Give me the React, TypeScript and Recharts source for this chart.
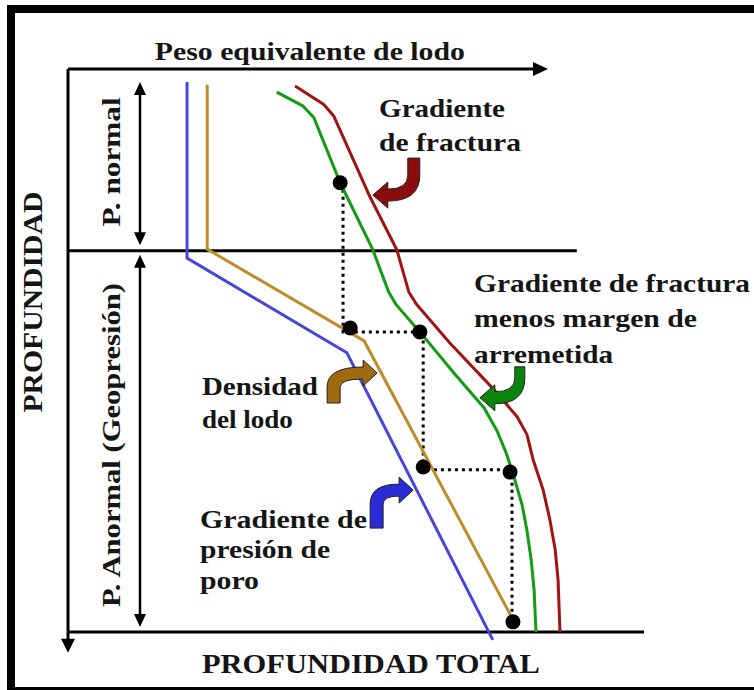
import {
  ComposedChart,
  Line,
  Scatter,
  XAxis,
  YAxis,
  ReferenceLine,
  ReferenceDot,
} from 'recharts'

// x: peso equivalente de lodo (0-100, relative), y: profundidad (0-100 = profundidad total)
const presionPoro = [
  { x: 24.8, y: 2.3 },
  { x: 24.8, y: 33.6 },
  { x: 58.1, y: 50.4 },
  { x: 88.5, y: 101.4 },
]

const densidadLodo = [
  { x: 29.0, y: 2.8 },
  { x: 29.0, y: 32.0 },
  { x: 61.7, y: 48.3 },
  { x: 92.5, y: 97.5 },
]

const fracturaMenosMargen = [
  { x: 43.5, y: 4.1 },
  { x: 49.0, y: 6.6 },
  { x: 51.2, y: 8.6 },
  { x: 56.7, y: 20.2 },
  { x: 63.5, y: 32.1 },
  { x: 66.8, y: 39.6 },
  { x: 68.4, y: 41.9 },
  { x: 73.3, y: 46.7 },
  { x: 80.4, y: 54.0 },
  { x: 86.7, y: 60.2 },
  { x: 89.4, y: 64.3 },
  { x: 91.2, y: 68.0 },
  { x: 92.6, y: 71.6 },
  { x: 94.6, y: 77.4 },
  { x: 95.6, y: 81.9 },
  { x: 96.5, y: 87.2 },
  { x: 97.1, y: 92.5 },
  { x: 97.5, y: 100 },
]

const gradienteFractura = [
  { x: 47.3, y: 3.0 },
  { x: 53.3, y: 6.3 },
  { x: 55.4, y: 8.4 },
  { x: 62.9, y: 22.7 },
  { x: 68.5, y: 32.1 },
  { x: 71.0, y: 39.6 },
  { x: 72.6, y: 41.8 },
  { x: 79.6, y: 48.7 },
  { x: 88.8, y: 57.0 },
  { x: 93.6, y: 61.8 },
  { x: 95.6, y: 64.9 },
  { x: 96.9, y: 69.4 },
  { x: 99.0, y: 74.8 },
  { x: 100.4, y: 80.1 },
  { x: 101.5, y: 85.4 },
  { x: 102.1, y: 90.8 },
  { x: 102.5, y: 100 },
]

// puntos de asentamiento de tuberias
const puntos = [
  { x: 56.7, y: 20.2 },
  { x: 58.8, y: 46.0 },
  { x: 73.3, y: 46.7 },
  { x: 74.0, y: 70.7 },
  { x: 92.1, y: 71.6 },
  { x: 92.7, y: 98.2 },
]

const escalera = [
  { x: 57.3, y: 20.2 },
  { x: 57.3, y: 46.7 },
  { x: 74.0, y: 46.7 },
  { x: 74.0, y: 71.2 },
  { x: 92.5, y: 71.2 },
  { x: 92.5, y: 98.2 },
]

const limiteNormal = 32.3
const profundidadTotal = 100

const tituloX = 'Peso equivalente de lodo'
const tituloY = 'PROFUNDIDAD'
const tituloFondo = 'PROFUNDIDAD TOTAL'
const zonaNormal = 'P. normal'
const zonaAnormal = 'P. Anormal (Geopresión)'
const notaFractura = ['Gradiente', 'de fractura']
const notaMargen = ['Gradiente de fractura', 'menos margen de', 'arremetida']
const notaLodo = ['Densidad', 'del lodo']
const notaPoro = ['Gradiente de', 'presión de', 'poro']

const FONT = 'Liberation Serif, Times New Roman, Times, serif'
const INK = '#151515'

const textBlock =
  (lines: string[], widths: number[], size: number, lead: number) =>
  (p: any) => (
    <g>
      {lines.map((t, i) => (
        <text
          key={i}
          x={p.cx}
          y={p.cy + i * lead}
          style={{ fontFamily: FONT, fontWeight: 700, fontSize: size }}
          fill={INK}
          textLength={widths[i]}
          lengthAdjust="spacingAndGlyphs"
        >
          {t}
        </text>
      ))}
    </g>
  )

const verticalText = (t: string, width: number, size: number) => (p: any) => (
  <text
    x={p.cx}
    y={p.cy}
    transform={`rotate(-90 ${p.cx} ${p.cy})`}
    textAnchor="middle"
    style={{ fontFamily: FONT, fontWeight: 700, fontSize: size }}
    fill={INK}
    textLength={width}
    lengthAdjust="spacingAndGlyphs"
  >
    {t}
  </text>
)

// block arrow bending down and pointing left (tip at cx, cy)
const hookLeft = (fill: string, si: number, so: number, top: number) => (p: any) => (
  <path
    transform={`translate(${p.cx} ${p.cy})`}
    d={`M0 0 L15 -13 L15 -6 Q${si} -6 ${si} -20 L${si} ${top} L${so} ${top} L${so} -20 Q${so} 6 15 6 L15 13 Z`}
    fill={fill}
    stroke="#222"
    strokeWidth={1}
  />
)

// block arrow rising and pointing right (tip at cx, cy)
const hookRight = (fill: string, so: number, si: number, bottom: number) => (p: any) => (
  <path
    transform={`translate(${p.cx} ${p.cy})`}
    d={`M0 0 L-14 -13 L-14 -6 Q${so} -6 ${so} 14 L${so} ${bottom} L${si} ${bottom} L${si} 14 Q${si} 6 -14 6 L-14 13 Z`}
    fill={fill}
    stroke="#222"
    strokeWidth={1}
  />
)

const arrowLine =
  (heads: 'none' | 'end' | 'both', w = 3, hw = 7, hl = 14) =>
  (p: any) => {
    const { x1, y1, x2, y2 } = p
    const a = Math.atan2(y2 - y1, x2 - x1)
    const c = Math.cos(a)
    const s = Math.sin(a)
    const head = (tx: number, ty: number, dir: number) => {
      const bx = tx - dir * c * hl
      const by = ty - dir * s * hl
      return `${tx},${ty} ${bx - s * hw},${by + c * hw} ${bx + s * hw},${by - c * hw}`
    }
    const sx = heads === 'both' ? x1 + c * (hl - 2) : x1
    const sy = heads === 'both' ? y1 + s * (hl - 2) : y1
    const ex = heads === 'none' ? x2 : x2 - c * (hl - 2)
    const ey = heads === 'none' ? y2 : y2 - s * (hl - 2)
    return (
      <g>
        <line x1={sx} y1={sy} x2={ex} y2={ey} stroke="#000" strokeWidth={w} />
        {heads !== 'none' && <polygon points={head(x2, y2, 1)} fill="#000" />}
        {heads === 'both' && <polygon points={head(x1, y1, -1)} fill="#000" />}
      </g>
    )
  }

export default function App() {
  return (
    <div
      style={{
        position: 'absolute',
        left: 0,
        top: 0,
        width: 754,
        height: 690,
        overflow: 'hidden',
        background: '#fff',
      }}
    >
      <div
        style={{
          position: 'absolute',
          left: 7,
          top: 5,
          width: 800,
          height: 690,
          border: '8px solid #000',
          boxSizing: 'border-box',
        }}
      />
      <div style={{ position: 'absolute', left: 0, top: 0 }}>
        <ComposedChart
          width={754}
          height={690}
          margin={{ top: 69, right: 86, bottom: 35.5, left: 68 }}
        >
          <XAxis type="number" dataKey="x" domain={[0, 125]} hide />
          <YAxis type="number" dataKey="y" domain={[0, 104]} reversed hide />

          <ReferenceLine
            segment={[{ x: 0, y: 0 }, { x: 100, y: 0 }]}
            ifOverflow="visible"
            shape={arrowLine('end', 3, 7, 15)}
          />
          <ReferenceLine
            segment={[{ x: 0, y: 0 }, { x: 0, y: 103.7 }]}
            ifOverflow="visible"
            shape={arrowLine('end', 3, 7, 14)}
          />
          <ReferenceLine
            segment={[{ x: 0, y: limiteNormal }, { x: 106, y: limiteNormal }]}
            ifOverflow="visible"
            shape={arrowLine('none', 3)}
          />
          <ReferenceLine
            segment={[{ x: 0, y: profundidadTotal }, { x: 120, y: profundidadTotal }]}
            ifOverflow="visible"
            shape={arrowLine('none', 3)}
          />
          <ReferenceLine
            segment={[{ x: 15, y: 2.3 }, { x: 15, y: 31.3 }]}
            ifOverflow="visible"
            shape={arrowLine('both', 2.5, 6, 13)}
          />
          <ReferenceLine
            segment={[{ x: 15, y: 33.0 }, { x: 15, y: 99.1 }]}
            ifOverflow="visible"
            shape={arrowLine('both', 2.5, 6, 13)}
          />

          <Line
            data={escalera}
            dataKey="y"
            type="linear"
            stroke="#000"
            strokeWidth={3}
            strokeDasharray="3 4"
            dot={false}
            activeDot={false}
            isAnimationActive={false}
          />
          <Line
            data={presionPoro}
            dataKey="y"
            type="linear"
            stroke="#4646d8"
            strokeWidth={3}
            dot={false}
            activeDot={false}
            isAnimationActive={false}
          />
          <Line
            data={densidadLodo}
            dataKey="y"
            type="linear"
            stroke="#c08b2c"
            strokeWidth={3}
            dot={false}
            activeDot={false}
            isAnimationActive={false}
          />
          <Line
            data={fracturaMenosMargen}
            dataKey="y"
            type="linear"
            stroke="#149a14"
            strokeWidth={3}
            strokeLinejoin="round"
            dot={false}
            activeDot={false}
            isAnimationActive={false}
          />
          <Line
            data={gradienteFractura}
            dataKey="y"
            type="linear"
            stroke="#a01414"
            strokeWidth={3}
            strokeLinejoin="round"
            dot={false}
            activeDot={false}
            isAnimationActive={false}
          />
          <Scatter
            data={puntos}
            dataKey="y"
            isAnimationActive={false}
            shape={(p: any) => <circle cx={p.cx} cy={p.cy} r={7.5} fill="#000" />}
          />

          <ReferenceDot x={63.5} y={22.4} ifOverflow="visible" shape={hookLeft('#8b0c0c', 35, 47, -37)} />
          <ReferenceDot x={85.8} y={58.4} ifOverflow="visible" shape={hookLeft('#0a840a', 35, 45, -31)} />
          <ReferenceDot x={64.4} y={54.0} ifOverflow="visible" shape={hookRight('#a26a10', -50, -37, 30)} />
          <ReferenceDot x={71.9} y={74.8} ifOverflow="visible" shape={hookRight('#2b2bd6', -43, -30, 38)} />

          <ReferenceDot x={18.1} y={-1.6} ifOverflow="visible" shape={textBlock([tituloX], [310], 25, 0)} />
          <ReferenceDot x={27.9} y={107.3} ifOverflow="visible" shape={textBlock([tituloFondo], [338], 27, 0)} />
          <ReferenceDot x={-5.4} y={41.4} ifOverflow="visible" shape={verticalText(tituloY, 221, 28)} />
          <ReferenceDot x={10.8} y={16.5} ifOverflow="visible" shape={verticalText(zonaNormal, 129, 26)} />
          <ReferenceDot x={10.8} y={66.8} ifOverflow="visible" shape={verticalText(zonaAnormal, 324, 26)} />
          <ReferenceDot x={64.8} y={8.5} ifOverflow="visible" shape={textBlock(notaFractura, [126, 142], 26, 34)} />
          <ReferenceDot x={84.6} y={39.6} ifOverflow="visible" shape={textBlock(notaMargen, [276, 223, 139], 26, 35.5)} />
          <ReferenceDot x={27.9} y={57.9} ifOverflow="visible" shape={textBlock(notaLodo, [116, 91], 26, 33)} />
          <ReferenceDot x={27.5} y={81.5} ifOverflow="visible" shape={textBlock(notaPoro, [167, 130, 59], 26, 30.5)} />
        </ComposedChart>
      </div>
    </div>
  )
}
